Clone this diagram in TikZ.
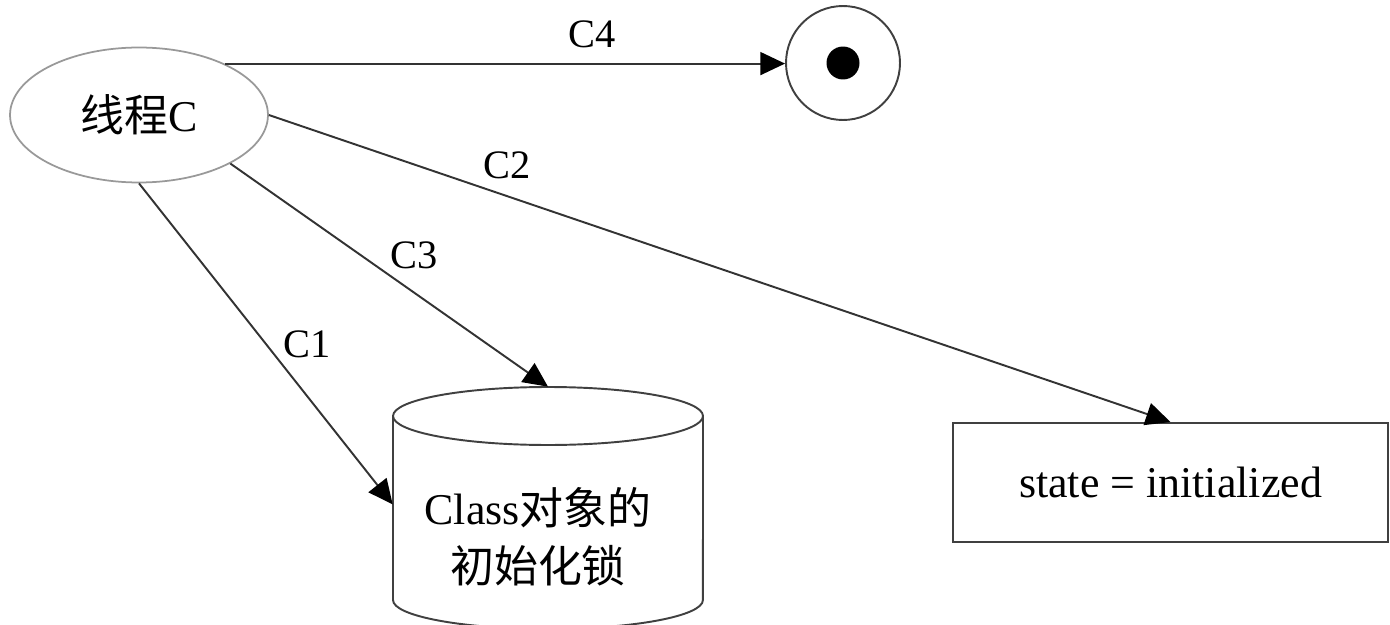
\documentclass[tikz,border=0pt]{standalone}
\usepackage{fontspec}
\setmainfont{Liberation Serif}
\newfontfamily\cjk{Noto Sans CJK SC}
\usetikzlibrary{arrows.meta,shapes.geometric}
\tikzset{
  conn/.style={draw=black!80, line width=1.1pt, -{Triangle[length=14pt,width=13pt,color=black]}},
  lbl/.style={font=\fontsize{23}{28}\selectfont, inner sep=0pt},
  bigtxt/.style={font=\fontsize{25}{33}\selectfont},
  outl/.style={draw=black!75, line width=1.1pt},
}
\begin{document}
\begin{tikzpicture}[x=0.02cm, y=-0.02cm]
\useasboundingbox (0,0) rectangle (1390,625);
\clip (0,0) rectangle (1390,625);
% thread ellipse
\node[ellipse, draw=black!40, line width=1pt, minimum width=5.16cm, minimum height=2.7cm, inner sep=0pt, bigtxt] (thr) at (139,115) {{\cjk 线程}C};
% final state
\node[circle, outl, minimum size=2.28cm, inner sep=0pt] (fin) at (843,63) {};
\node[circle, fill=black, minimum size=0.66cm, inner sep=0pt] (dot) at (843,63) {};
% state box
\node[rectangle, outl, minimum width=8.7cm, minimum height=2.38cm, inner sep=0pt, bigtxt] (st) at (1170.5,482.5) {state = initialized};
% cylinder
\node[rectangle, minimum width=6.2cm, minimum height=4.26cm, inner sep=0pt] (cyl) at (548,493.5) {};
\draw[outl] (393,416) -- (393,600) arc[start angle=180, end angle=360, x radius=3.1cm, y radius=0.58cm] -- (703,416);
\draw[outl] (548,416) ellipse [x radius=3.1cm, y radius=0.58cm];
\node[bigtxt, align=center, inner sep=0pt] (cyltxt) at (538,537) {Class{\cjk 对象的}\\{\cjk 初始化锁}};
% connectors
\draw[conn] (thr.31) -- (thr.31 -| fin.west);
\draw[conn] (thr.east) -- (st.north);
\draw[conn] (thr.-28) -- (cyl.north);
\draw[conn] (thr.south) -- (cyl.184);
% labels
\node[lbl] (l4) at (592,34) {C4};
\node[lbl] (l2) at (507.5,165) {C2};
\node[lbl] (l3) at (414,255) {C3};
\node[lbl] (l1) at (307.5,344) {C1};
\end{tikzpicture}
\end{document}
